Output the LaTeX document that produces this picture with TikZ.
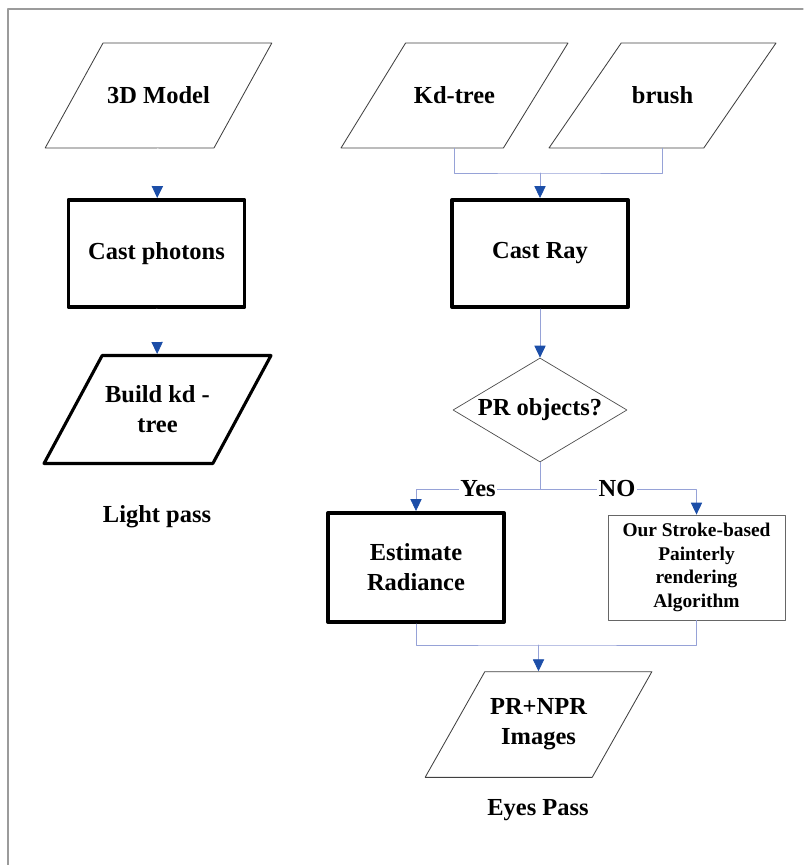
\documentclass[tikz,border=0pt]{standalone}
\usepackage{fontspec}
\setmainfont{Liberation Serif}
\usepackage{tikz}
\usetikzlibrary{shapes.geometric}
\usetikzlibrary{arrows.meta}
\definecolor{linkblue}{RGB}{150,162,215}
\definecolor{tipblue}{RGB}{28,78,168}
\definecolor{framegray}{RGB}{155,155,155}

\begin{document}
\begin{tikzpicture}[x=0.025cm,y=-0.025cm,line cap=round,line join=round,
    every node/.style={font=\fontsize{17.4}{21.3}\selectfont\bfseries,align=center},
    datab/.style={trapezium,trapezium left angle=63,trapezium right angle=117,trapezium stretches,
      draw=black!75,line width=0.6pt,minimum width=5.675cm,inner xsep=0pt,inner ysep=19.3pt},
    data/.style={datab,inner ysep=31.3pt,text height=12pt,text depth=0pt},
    process/.style={draw=black,line width=2.8pt,minimum width=4.4cm,minimum height=2.675cm,inner sep=0pt},
    decision/.style={diamond,aspect=1.67,draw=black!70,line width=0.5pt,minimum width=4.35cm,minimum height=2.6cm,inner sep=0pt},
    algo/.style={draw=black!60,line width=0.6pt,minimum width=4.425cm,minimum height=2.625cm,inner sep=0pt,
      font=\fontsize{13.8}{16.7}\selectfont\bfseries},
    link/.style={draw=linkblue,line width=0.6pt},
    flow/.style={link,-{Triangle[width=8pt,length=8.5pt,color=tipblue]}}]
    \useasboundingbox (0,0) rectangle (803,865);
    % \fill[white] (0,0) rectangle (803,865);
    \draw[framegray,line width=0.8pt] (8,865) -- (8,9) -- (803,9);

    % light pass
    \node[data] (model) at (158.5,95.5) {3D Model};
    \node[process] (photons) at (156.5,253.5) {Cast photons};
    \node[datab,draw=black,line width=2.2pt,inner ysep=21.6pt] (build) at (157.5,409.5) {Build kd -\\tree};
    \node (light) at (157,517) {Light pass};
    \draw[flow,draw=white] (model) -- (photons);
    \draw[flow,draw=white] (photons) -- (build);

    % eyes pass
    \node[data] (kd) at (454.5,95.5) {Kd-tree};
    \node[data] (brush) at (662.5,95.5) {brush};
    \node[process] (ray) at (540,253.5) {Cast Ray};
    \node[decision] (pr) at (540,410) {PR objects?};
    \node[process,minimum height=2.725cm] (est) at (416,567.5) {Estimate\\Radiance};
    \node[algo] (stroke) at (696.5,567.5) {Our Stroke-based\\Painterly\\rendering\\Algorithm};
    \node[datab] (img) at (538.5,724.5) {PR+NPR\\Images};
    \node (eyes) at (538,810) {Eyes Pass};

    \coordinate (join) at (540,173);
    \draw[link] (kd.south) |- (join) -| (brush.south);
    \draw[flow] (join) -- (ray);
    \draw[flow] (ray) -- (pr);
    \coordinate (split) at (540,489);
    \draw[link] (pr.south) -- (split);
    \draw[flow] (split) -| (est.north);
    \draw[flow] (split) -| (stroke.north);
    \node[fill=white,inner sep=1pt] (yes) at (478,489) {Yes};
    \node[fill=white,inner sep=1pt] (no) at (617,489) {NO};
    \coordinate (merge) at (538.5,645);
    \draw[link] (est.south) |- (merge) -| (stroke.south);
    \draw[flow] (merge) -- (img);
  \end{tikzpicture}
\end{document}
